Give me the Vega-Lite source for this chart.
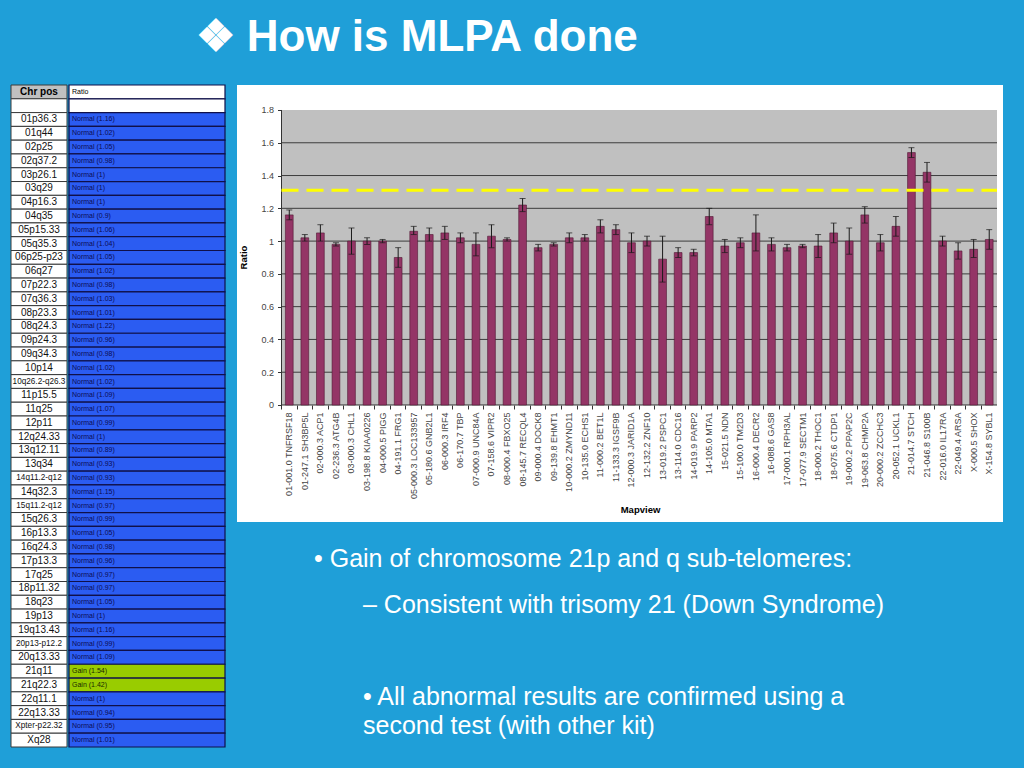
{
  "$schema": "https://vega.github.io/schema/vega-lite/v6.json",
  "background": "#1f9fd8",
  "padding": {"left": 10, "top": 16, "right": 24, "bottom": 4},
  "title": {"text": "❖ How is MLPA done", "anchor": "start", "dx": 185, "fontSize": 44, "font": "Liberation Sans", "fontWeight": "bold", "color": "white", "offset": 24},
  "config": {"view": {"stroke": null}},
  "datasets": {
    "table": [
      {"i": 0, "pos": "Chr pos", "call": "Ratio", "kind": "header"},
      {"i": 1, "pos": "", "call": "", "kind": "blank"},
      {"i": 2, "pos": "01p36.3", "call": "Normal (1.16)", "kind": "Normal"},
      {"i": 3, "pos": "01q44", "call": "Normal (1.02)", "kind": "Normal"},
      {"i": 4, "pos": "02p25", "call": "Normal (1.05)", "kind": "Normal"},
      {"i": 5, "pos": "02q37.2", "call": "Normal (0.98)", "kind": "Normal"},
      {"i": 6, "pos": "03p26.1", "call": "Normal (1)", "kind": "Normal"},
      {"i": 7, "pos": "03q29", "call": "Normal (1)", "kind": "Normal"},
      {"i": 8, "pos": "04p16.3", "call": "Normal (1)", "kind": "Normal"},
      {"i": 9, "pos": "04q35", "call": "Normal (0.9)", "kind": "Normal"},
      {"i": 10, "pos": "05p15.33", "call": "Normal (1.06)", "kind": "Normal"},
      {"i": 11, "pos": "05q35.3", "call": "Normal (1.04)", "kind": "Normal"},
      {"i": 12, "pos": "06p25-p23", "call": "Normal (1.05)", "kind": "Normal"},
      {"i": 13, "pos": "06q27", "call": "Normal (1.02)", "kind": "Normal"},
      {"i": 14, "pos": "07p22.3", "call": "Normal (0.98)", "kind": "Normal"},
      {"i": 15, "pos": "07q36.3", "call": "Normal (1.03)", "kind": "Normal"},
      {"i": 16, "pos": "08p23.3", "call": "Normal (1.01)", "kind": "Normal"},
      {"i": 17, "pos": "08q24.3", "call": "Normal (1.22)", "kind": "Normal"},
      {"i": 18, "pos": "09p24.3", "call": "Normal (0.96)", "kind": "Normal"},
      {"i": 19, "pos": "09q34.3", "call": "Normal (0.98)", "kind": "Normal"},
      {"i": 20, "pos": "10p14", "call": "Normal (1.02)", "kind": "Normal"},
      {"i": 21, "pos": "10q26.2-q26.3", "call": "Normal (1.02)", "kind": "Normal"},
      {"i": 22, "pos": "11p15.5", "call": "Normal (1.09)", "kind": "Normal"},
      {"i": 23, "pos": "11q25", "call": "Normal (1.07)", "kind": "Normal"},
      {"i": 24, "pos": "12p11", "call": "Normal (0.99)", "kind": "Normal"},
      {"i": 25, "pos": "12q24.33", "call": "Normal (1)", "kind": "Normal"},
      {"i": 26, "pos": "13q12.11", "call": "Normal (0.89)", "kind": "Normal"},
      {"i": 27, "pos": "13q34", "call": "Normal (0.93)", "kind": "Normal"},
      {"i": 28, "pos": "14q11.2-q12", "call": "Normal (0.93)", "kind": "Normal"},
      {"i": 29, "pos": "14q32.3", "call": "Normal (1.15)", "kind": "Normal"},
      {"i": 30, "pos": "15q11.2-q12", "call": "Normal (0.97)", "kind": "Normal"},
      {"i": 31, "pos": "15q26.3", "call": "Normal (0.99)", "kind": "Normal"},
      {"i": 32, "pos": "16p13.3", "call": "Normal (1.05)", "kind": "Normal"},
      {"i": 33, "pos": "16q24.3", "call": "Normal (0.98)", "kind": "Normal"},
      {"i": 34, "pos": "17p13.3", "call": "Normal (0.96)", "kind": "Normal"},
      {"i": 35, "pos": "17q25", "call": "Normal (0.97)", "kind": "Normal"},
      {"i": 36, "pos": "18p11.32", "call": "Normal (0.97)", "kind": "Normal"},
      {"i": 37, "pos": "18q23", "call": "Normal (1.05)", "kind": "Normal"},
      {"i": 38, "pos": "19p13", "call": "Normal (1)", "kind": "Normal"},
      {"i": 39, "pos": "19q13.43", "call": "Normal (1.16)", "kind": "Normal"},
      {"i": 40, "pos": "20p13-p12.2", "call": "Normal (0.99)", "kind": "Normal"},
      {"i": 41, "pos": "20q13.33", "call": "Normal (1.09)", "kind": "Normal"},
      {"i": 42, "pos": "21q11", "call": "Gain (1.54)", "kind": "Gain"},
      {"i": 43, "pos": "21q22.3", "call": "Gain (1.42)", "kind": "Gain"},
      {"i": 44, "pos": "22q11.1", "call": "Normal (1)", "kind": "Normal"},
      {"i": 45, "pos": "22q13.33", "call": "Normal (0.94)", "kind": "Normal"},
      {"i": 46, "pos": "Xpter-p22.32", "call": "Normal (0.95)", "kind": "Normal"},
      {"i": 47, "pos": "Xq28", "call": "Normal (1.01)", "kind": "Normal"}
    ],
    "probes": [
      {"probe": "01-001.0 TNFRSF18", "ratio": 1.16, "lo": 1.13, "hi": 1.19},
      {"probe": "01-247.1 SH3BP5L", "ratio": 1.02, "lo": 1.0, "hi": 1.04},
      {"probe": "02-000.3 ACP1", "ratio": 1.05, "lo": 1.0, "hi": 1.1},
      {"probe": "02-236.3 ATG4B", "ratio": 0.98, "lo": 0.97, "hi": 0.99},
      {"probe": "03-000.3 CHL1", "ratio": 1.0, "lo": 0.92, "hi": 1.08},
      {"probe": "03-198.8 KIAA0226", "ratio": 1.0, "lo": 0.98, "hi": 1.02},
      {"probe": "04-000.5 PIGG", "ratio": 1.0, "lo": 0.99, "hi": 1.01},
      {"probe": "04-191.1 FRG1", "ratio": 0.9, "lo": 0.84, "hi": 0.96},
      {"probe": "05-000.3 LOC133957", "ratio": 1.06, "lo": 1.04, "hi": 1.09},
      {"probe": "05-180.6 GNB2L1", "ratio": 1.04, "lo": 1.0, "hi": 1.08},
      {"probe": "06-000.3 IRF4", "ratio": 1.05, "lo": 1.01, "hi": 1.09},
      {"probe": "06-170.7 TBP", "ratio": 1.02, "lo": 0.99, "hi": 1.05},
      {"probe": "07-000.9 UNC84A", "ratio": 0.98, "lo": 0.91, "hi": 1.05},
      {"probe": "07-158.6 VIPR2", "ratio": 1.03, "lo": 0.96, "hi": 1.1},
      {"probe": "08-000.4 FBXO25", "ratio": 1.01, "lo": 1.0, "hi": 1.02},
      {"probe": "08-145.7 RECQL4", "ratio": 1.22, "lo": 1.18, "hi": 1.26},
      {"probe": "09-000.4 DOCK8", "ratio": 0.96, "lo": 0.94, "hi": 0.98},
      {"probe": "09-139.8 EHMT1", "ratio": 0.98, "lo": 0.97, "hi": 0.99},
      {"probe": "10-000.2 ZMYND11", "ratio": 1.02, "lo": 0.99, "hi": 1.05},
      {"probe": "10-135.0 ECHS1", "ratio": 1.02, "lo": 1.0, "hi": 1.04},
      {"probe": "11-000.2 BET1L", "ratio": 1.09, "lo": 1.05, "hi": 1.13},
      {"probe": "11-133.3 IGSF9B", "ratio": 1.07, "lo": 1.04, "hi": 1.1},
      {"probe": "12-000.3 JARID1A", "ratio": 0.99, "lo": 0.93, "hi": 1.05},
      {"probe": "12-132.2 ZNF10", "ratio": 1.0, "lo": 0.97, "hi": 1.03},
      {"probe": "13-019.2 PSPC1", "ratio": 0.89, "lo": 0.75, "hi": 1.03},
      {"probe": "13-114.0 CDC16", "ratio": 0.93, "lo": 0.9, "hi": 0.96},
      {"probe": "14-019.9 PARP2", "ratio": 0.93, "lo": 0.91, "hi": 0.95},
      {"probe": "14-105.0 MTA1", "ratio": 1.15, "lo": 1.1, "hi": 1.2},
      {"probe": "15-021.5 NDN", "ratio": 0.97, "lo": 0.93, "hi": 1.01},
      {"probe": "15-100.0 TM2D3", "ratio": 0.99, "lo": 0.96, "hi": 1.02},
      {"probe": "16-000.4 DECR2", "ratio": 1.05, "lo": 0.94, "hi": 1.16},
      {"probe": "16-088.6 GAS8", "ratio": 0.98, "lo": 0.94, "hi": 1.02},
      {"probe": "17-000.1 RPH3AL", "ratio": 0.96, "lo": 0.94, "hi": 0.98},
      {"probe": "17-077.9 SECTM1", "ratio": 0.97, "lo": 0.96, "hi": 0.98},
      {"probe": "18-000.2 THOC1", "ratio": 0.97, "lo": 0.9, "hi": 1.04},
      {"probe": "18-075.6 CTDP1", "ratio": 1.05, "lo": 0.99, "hi": 1.11},
      {"probe": "19-000.2 PPAP2C", "ratio": 1.0, "lo": 0.92, "hi": 1.08},
      {"probe": "19-063.8 CHMP2A", "ratio": 1.16, "lo": 1.11, "hi": 1.21},
      {"probe": "20-000.2 ZCCHC3", "ratio": 0.99, "lo": 0.94, "hi": 1.04},
      {"probe": "20-052.1 UCKL1", "ratio": 1.09, "lo": 1.03, "hi": 1.15},
      {"probe": "21-014.7 STCH", "ratio": 1.54, "lo": 1.51, "hi": 1.57},
      {"probe": "21-046.8 S100B", "ratio": 1.42, "lo": 1.36, "hi": 1.48},
      {"probe": "22-016.0 IL17RA", "ratio": 1.0, "lo": 0.97, "hi": 1.03},
      {"probe": "22-049.4 ARSA", "ratio": 0.94, "lo": 0.89, "hi": 0.99},
      {"probe": "X-000.5 SHOX", "ratio": 0.95, "lo": 0.9, "hi": 1.01},
      {"probe": "X-154.8 SYBL1", "ratio": 1.01, "lo": 0.95, "hi": 1.07}
    ],
    "grid": [{"v": 0.2}, {"v": 0.4}, {"v": 0.6}, {"v": 0.8}, {"v": 1.0}, {"v": 1.2}, {"v": 1.4}, {"v": 1.6}],
    "notes": [
      {"slot": 0, "level": 0, "text": "• Gain of chromosome 21p and q sub-telomeres:"},
      {"slot": 1, "level": 1, "text": "– Consistent with trisomy 21 (Down Syndrome)"},
      {"slot": 3, "level": 1, "text": ["• All abnormal results are confirmed using a", "second test (with other kit)"]}
    ]
  },
  "spacing": 11,
  "hconcat": [
    {
      "spacing": 0,
      "hconcat": [
        {
          "width": 56,
          "height": 662,
          "data": {"name": "table"},
          "encoding": {"y": {"field": "i", "type": "ordinal", "axis": null, "scale": {"paddingInner": 0, "paddingOuter": 0}}},
          "layer": [
            {"mark": {"type": "rect", "stroke": "#3a3a3a", "strokeWidth": 1},
             "encoding": {"fill": {"condition": {"test": "datum.kind === 'header'", "value": "#c0c0c0"}, "value": "white"}}},
            {"transform": [{"filter": "datum.kind !== 'header'"}],
             "mark": {"type": "text", "font": "Liberation Sans", "color": "#111111"},
             "encoding": {"text": {"field": "pos"},
               "size": {"condition": {"test": "length(datum.pos) >= 11", "value": 8.2}, "value": 10}}},
            {"transform": [{"filter": "datum.kind === 'header'"}],
             "mark": {"type": "text", "fontSize": 10, "fontWeight": "bold", "font": "Liberation Sans", "color": "#000000"},
             "encoding": {"text": {"field": "pos"}}}
          ]
        },
        {
          "width": 156,
          "height": 662,
          "data": {"name": "table"},
          "encoding": {"y": {"field": "i", "type": "ordinal", "axis": null, "scale": {"paddingInner": 0, "paddingOuter": 0}}},
          "layer": [
            {"mark": {"type": "rect", "stroke": "#10104a", "strokeWidth": 1.2},
             "encoding": {"fill": {"condition": [{"test": "datum.kind === 'Gain'", "value": "#99cc00"}, {"test": "datum.kind === 'Normal'", "value": "#2b5cf2"}], "value": "white"}}},
            {"mark": {"type": "text", "fontSize": 7, "align": "left", "dx": -75, "font": "Liberation Sans"},
             "encoding": {"text": {"field": "call"},
               "color": {"condition": [{"test": "datum.kind === 'Normal'", "value": "#0c0c55"}, {"test": "datum.kind === 'Gain'", "value": "#1a2a00"}], "value": "#000000"}}}
          ]
        }
      ]
    },
    {
      "spacing": 0,
      "vconcat": [
        {
          "width": 766,
          "height": 437,
          "view": {"fill": "white", "stroke": null},
          "layer": [
            {
              "data": {"values": [{}]},
              "mark": {"type": "rect", "color": "#c0c0c0"},
              "encoding": {
                "x": {"datum": "01-001.0 TNFRSF18", "type": "nominal", "bandPosition": -0.5, "scale": {"type": "band", "paddingInner": 0.5, "paddingOuter": 0.25, "range": [44.5, 760]},
                  "axis": {"title": "Mapview", "orient": "bottom", "offset": -117, "labelAngle": -90, "labelFontSize": 9, "labelFont": "Liberation Sans", "labelColor": "#444444", "labelPadding": 3, "labelOverlap": false, "labelBound": false, "domain": false, "tickSize": 4, "tickColor": "#333333", "bandPosition": -0.5, "titleFontSize": 9.5, "titleFont": "Liberation Sans", "titleFontWeight": "bold", "titleColor": "#000000", "titleX": 403, "titleY": 104, "titleBaseline": "middle"}},
                "x2": {"datum": "X-154.8 SYBL1", "bandPosition": 1.5},
                "y": {"datum": 0, "type": "quantitative", "scale": {"domain": [-0.714, 1.9525], "nice": false, "zero": false},
                  "axis": {"title": "Ratio", "orient": "left", "offset": -44.5, "values": [0, 0.2, 0.4, 0.6, 0.8, 1, 1.2, 1.4, 1.6, 1.8], "format": "~g", "grid": false, "domain": false, "tickSize": 4, "tickColor": "#333333", "labelFontSize": 9, "labelFont": "Liberation Sans", "labelColor": "#444444", "labelPadding": 4, "titleFontSize": 9.5, "titleFont": "Liberation Sans", "titleFontWeight": "bold", "titleColor": "#000000", "titleX": -33, "titleY": 172}},
                "y2": {"datum": 1.8}
              }
            },
            {
              "data": {"name": "grid"},
              "mark": {"type": "rule", "color": "#3c3c3c", "strokeWidth": 1},
              "encoding": {
                "x": {"datum": "01-001.0 TNFRSF18", "type": "nominal", "bandPosition": -0.5},
                "x2": {"datum": "X-154.8 SYBL1", "bandPosition": 1.5},
                "y": {"field": "v", "type": "quantitative", "title": "Ratio"}
              }
            },
            {
              "data": {"values": [{}]},
              "mark": {"type": "rule", "color": "#333333", "strokeWidth": 1},
              "encoding": {
                "x": {"datum": "01-001.0 TNFRSF18", "type": "nominal", "bandPosition": -0.5},
                "x2": {"datum": "X-154.8 SYBL1", "bandPosition": 1.5},
                "y": {"datum": 0, "type": "quantitative"}
              }
            },
            {
              "data": {"values": [{}]},
              "mark": {"type": "rule", "color": "#333333", "strokeWidth": 1},
              "encoding": {
                "x": {"datum": "01-001.0 TNFRSF18", "type": "nominal", "bandPosition": -0.5},
                "y": {"datum": 0, "type": "quantitative"},
                "y2": {"datum": 1.8}
              }
            },
            {
              "data": {"name": "probes"},
              "mark": {"type": "bar", "color": "#943566", "stroke": "#4f1733", "strokeWidth": 0.6},
              "encoding": {
                "x": {"field": "probe", "type": "nominal", "title": "Mapview"},
                "y": {"field": "ratio", "type": "quantitative", "title": "Ratio"}
              }
            },
            {
              "data": {"name": "probes"},
              "mark": {"type": "rule", "color": "#1a1a1a", "strokeWidth": 1},
              "encoding": {
                "x": {"field": "probe", "type": "nominal", "title": "Mapview"},
                "y": {"field": "lo", "type": "quantitative", "title": "Ratio"},
                "y2": {"field": "hi"}
              }
            },
            {
              "data": {"name": "probes"},
              "mark": {"type": "tick", "color": "#1a1a1a", "size": 6, "thickness": 1},
              "encoding": {
                "x": {"field": "probe", "type": "nominal", "title": "Mapview"},
                "y": {"field": "hi", "type": "quantitative", "title": "Ratio"}
              }
            },
            {
              "data": {"name": "probes"},
              "mark": {"type": "tick", "color": "#1a1a1a", "size": 6, "thickness": 1},
              "encoding": {
                "x": {"field": "probe", "type": "nominal", "title": "Mapview"},
                "y": {"field": "lo", "type": "quantitative", "title": "Ratio"}
              }
            },
            {
              "data": {"values": [{}]},
              "mark": {"type": "rule", "color": "#ffff00", "strokeWidth": 3, "strokeDash": [17, 8]},
              "encoding": {
                "x": {"datum": "01-001.0 TNFRSF18", "type": "nominal", "bandPosition": -0.5},
                "x2": {"datum": "X-154.8 SYBL1", "bandPosition": 1.5},
                "y": {"datum": 1.31, "type": "quantitative"}
              }
            }
          ]
        },
        {
          "width": 766,
          "height": 246,
          "data": {"name": "notes"},
          "mark": {"type": "text", "align": "left", "baseline": "alphabetic", "fontSize": 25, "font": "Liberation Sans", "color": "white", "lineHeight": 29},
          "encoding": {
            "x": {"field": "level", "type": "quantitative", "axis": null, "scale": {"domain": [0, 1], "range": [77, 126]}},
            "y": {"field": "slot", "type": "quantitative", "axis": null, "scale": {"domain": [0, 3], "range": [44.7, 182.7]}},
            "text": {"field": "text"}
          }
        }
      ]
    }
  ]
}
